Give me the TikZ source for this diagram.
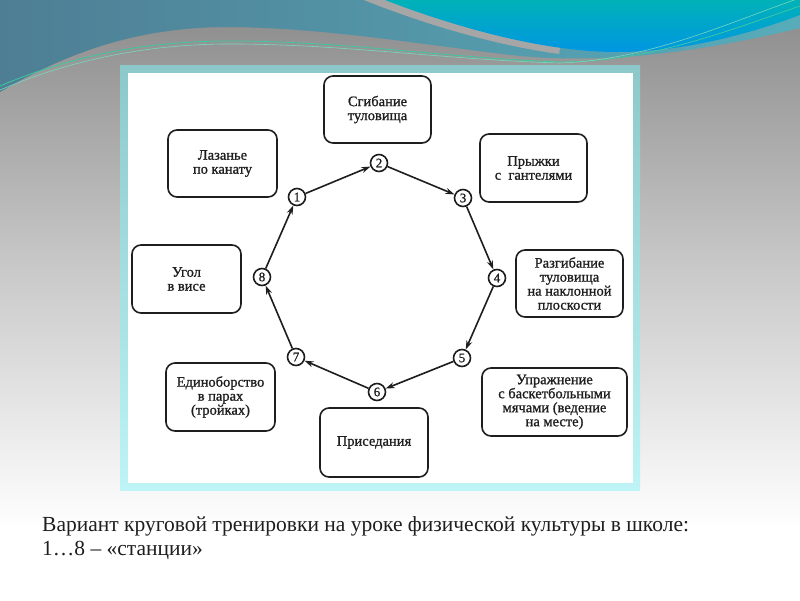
\documentclass[tikz,border=0pt]{standalone}
\usepackage{fontspec}
\setmainfont{Liberation Serif}
\newfontfamily\boxfont[FakeBold=1]{Liberation Serif}
\usetikzlibrary{arrows.meta}
\definecolor{tealA}{RGB}{78,126,148}
\definecolor{tealB}{RGB}{88,172,186}
\definecolor{blueA}{RGB}{0,178,184}
\definecolor{blueB}{RGB}{0,150,226}
\definecolor{bandgray}{RGB}{166,166,166}
\definecolor{lineg}{RGB}{60,200,160}
\definecolor{frameA}{RGB}{140,200,202}
\definecolor{frameB}{RGB}{190,244,246}
\definecolor{ink}{RGB}{30,30,30}
\tikzset{
  stationbox/.style={draw=ink, line width=1.6pt, rounded corners=9pt, fill=white,
    align=center, inner sep=0pt, font=\boxfont\fontsize{14.5}{14}\selectfont, text=ink},
  num/.style={draw=ink, circle, line width=1.6pt, minimum size=17pt, inner sep=0pt,
    font=\boxfont\fontsize{13}{13}\selectfont, text=ink, fill=white},
  flow/.style={draw=ink, line width=1.6pt, -{Stealth[length=9pt,width=6pt]}},
}
\begin{document}
\begin{tikzpicture}[x=1pt,y=-1pt]
\useasboundingbox (0,0) rectangle (800,600);
% background
\fill[white] (0,0) rectangle (800,600);
\shade[top color={rgb,255:red,138;green,138;blue,138}, bottom color=white,
  middle color={rgb,255:red,200;green,200;blue,200}] (0,0) rectangle (800,530);
% upper left teal wave
\shade[left color=tealA, right color=tealB]
  (0,0) -- (0,92) .. controls (80,45) and (150,27) .. (230,27)
  .. controls (330,28) and (430,46) .. (520,56)
  .. controls (610,64) and (700,52) .. (800,28) -- (800,0) -- cycle;
% gray band and blue region
\draw[bandgray, line width=12pt] (365,-6) .. controls (430,20) and (500,40) .. (560,48);
\shade[top color=blueA, bottom color=blueB]
  (385,0) .. controls (450,25) and (540,52) .. (617,52)
  .. controls (690,52) and (760,30) .. (800,15) -- (800,0) -- cycle;
% thin lines
\draw[lineg, line width=0.8pt] (0,86) .. controls (80,52) and (160,40) .. (240,41)
  .. controls (350,42) and (450,58) .. (560,62) .. controls (650,62) and (730,30) .. (800,6);
\draw[lineg!70!white, line width=0.6pt] (0,90) .. controls (80,56) and (160,43) .. (240,44)
  .. controls (350,45) and (450,60) .. (560,63) .. controls (650,60) and (730,22) .. (800,-2);
% frame
\shade[top color=frameA, bottom color=frameB] (120,65) rectangle (640,490);
\fill[white] (128,73) rectangle (633,483);
% station boxes
\node[stationbox, minimum width=107pt, minimum height=67pt] (b2) at (377.5,109.5) {Сгибание\\туловища};
\node[stationbox, minimum width=109pt, minimum height=67pt] (b1) at (222.5,163.5) {Лазанье\\по канату};
\node[stationbox, minimum width=107pt, minimum height=68pt] (b3) at (533.5,168) {Прыжки\\с\ \ гантелями};
\node[stationbox, minimum width=107pt, minimum height=67pt] (b4) at (569.5,283.5) {Разгибание\\туловища\\на наклонной\\плоскости};
\node[stationbox, minimum width=109pt, minimum height=68pt] (b8) at (186.5,279) {Угол\\в висе};
\node[stationbox, minimum width=109pt, minimum height=68pt] (b7) at (220.5,397) {Единоборство\\в парах\\(тройках)};
\node[stationbox, minimum width=145pt, minimum height=68pt] (b5) at (554.5,402) {Упражнение\\с баскетбольными\\мячами (ведение\\на месте)};
\node[stationbox, minimum width=108pt, minimum height=69pt] (b6) at (374,442.5) {Приседания};
% circles
\node[num] (c1) at (297,197) {1};
\node[num] (c2) at (379,163) {2};
\node[num] (c3) at (463,198) {3};
\node[num] (c4) at (497,278) {4};
\node[num] (c5) at (462,358) {5};
\node[num] (c6) at (377,392) {6};
\node[num] (c7) at (296,357) {7};
\node[num] (c8) at (262,277) {8};
% connectors
\draw[flow] (c1) -- (c2);
\draw[flow] (c2) -- (c3);
\draw[flow] (c3) -- (c4);
\draw[flow] (c4) -- (c5);
\draw[flow] (c5) -- (c6);
\draw[flow] (c6) -- (c7);
\draw[flow] (c7) -- (c8);
\draw[flow] (c8) -- (c1);
% caption
\node[anchor=base west, inner sep=0pt, text={rgb,255:red,30;green,30;blue,30},
  font=\fontsize{21.5}{24}\selectfont] (cap1) at (42,531) {Вариант круговой тренировки на уроке физической культуры в школе:};
\node[anchor=base west, inner sep=0pt, text={rgb,255:red,30;green,30;blue,30},
  font=\fontsize{21.5}{24}\selectfont] (cap2) at (42,555) {1…8 – «станции»};
\end{tikzpicture}
\end{document}
